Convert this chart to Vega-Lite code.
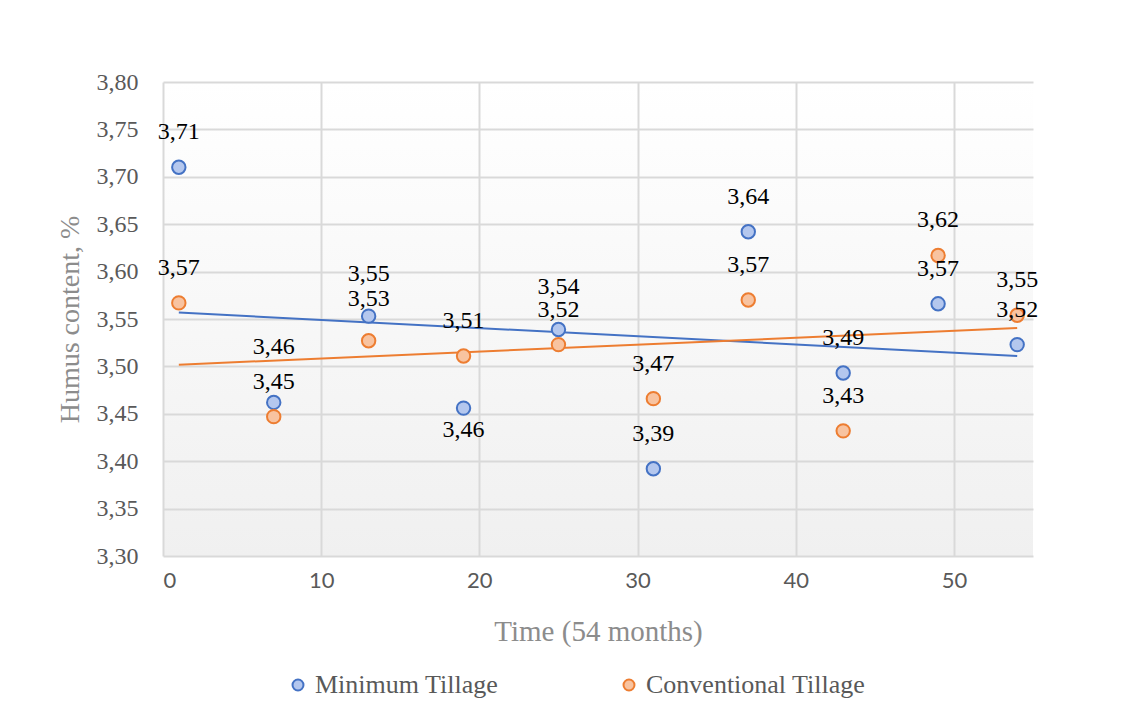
{
  "$schema": "https://vega.github.io/schema/vega-lite/v6.json",
  "autosize": "none",
  "width": 870,
  "height": 474,
  "padding": {"left": 163, "top": 82, "right": 101, "bottom": 166},
  "background": "white",
  "config": {
    "locale": {"number": {"decimal": ",", "thousands": ".", "grouping": [3], "currency": ["", ""]}},
    "view": {"stroke": null, "fill": {"gradient": "linear", "x1": 0, "y1": 0, "x2": 0, "y2": 1, "stops": [{"offset": 0, "color": "#ffffff"}, {"offset": 1, "color": "#f0f0f0"}]}},
    "axis": {"gridColor": "#d9d9d9", "gridWidth": 2, "domain": false, "ticks": false},
    "legend": {"title": null, "orient": "none", "legendX": 122, "legendY": 590, "direction": "horizontal", "columns": 2,
      "columnPadding": 117, "symbolType": "circle", "symbolSize": 120, "symbolStrokeWidth": 2, "symbolOffset": 0, "labelOffset": 4,
      "labelFont": "Liberation Serif, Times New Roman, serif", "labelFontSize": 26, "labelColor": "#595959", "labelLimit": 400}
  },
  "data": {"values": [
    {"t": 1, "series": "Minimum Tillage", "v": 3.71},
    {"t": 7, "series": "Minimum Tillage", "v": 3.462},
    {"t": 13, "series": "Minimum Tillage", "v": 3.553},
    {"t": 19, "series": "Minimum Tillage", "v": 3.456},
    {"t": 25, "series": "Minimum Tillage", "v": 3.539},
    {"t": 31, "series": "Minimum Tillage", "v": 3.392},
    {"t": 37, "series": "Minimum Tillage", "v": 3.642},
    {"t": 43, "series": "Minimum Tillage", "v": 3.493},
    {"t": 49, "series": "Minimum Tillage", "v": 3.566},
    {"t": 54, "series": "Minimum Tillage", "v": 3.523},
    {"t": 1, "series": "Conventional Tillage", "v": 3.567},
    {"t": 7, "series": "Conventional Tillage", "v": 3.447},
    {"t": 13, "series": "Conventional Tillage", "v": 3.527},
    {"t": 19, "series": "Conventional Tillage", "v": 3.511},
    {"t": 25, "series": "Conventional Tillage", "v": 3.523},
    {"t": 31, "series": "Conventional Tillage", "v": 3.466},
    {"t": 37, "series": "Conventional Tillage", "v": 3.57},
    {"t": 43, "series": "Conventional Tillage", "v": 3.432},
    {"t": 49, "series": "Conventional Tillage", "v": 3.617},
    {"t": 54, "series": "Conventional Tillage", "v": 3.554}
  ]},
  "encoding": {
    "x": {"field": "t", "type": "quantitative",
      "scale": {"domain": [0, 55], "nice": false, "zero": false},
      "axis": {"values": [0, 10, 20, 30, 40, 50], "title": "Time (54 months)",
        "labelFont": "Lato", "labelFontSize": 22, "labelColor": "#595959", "labelPadding": 14,
        "titleFont": "Liberation Serif, Times New Roman, serif", "titleFontSize": 29, "titleFontWeight": "normal", "titleColor": "#8c8c8c", "titlePadding": 26}},
    "y": {"field": "v", "type": "quantitative",
      "scale": {"domain": [3.3, 3.8], "nice": false, "zero": false},
      "axis": {"values": [3.3, 3.35, 3.4, 3.45, 3.5, 3.55, 3.6, 3.65, 3.7, 3.75, 3.8], "format": ".2f", "title": "Humus content, %",
        "labelFont": "Liberation Serif, Times New Roman, serif", "labelFontSize": 24, "labelColor": "#595959", "labelPadding": 25,
        "titleFont": "Liberation Serif, Times New Roman, serif", "titleFontSize": 28, "titleFontWeight": "normal", "titleColor": "#8c8c8c", "titlePadding": 12}}
  },
  "layer": [
    {
      "transform": [{"regression": "v", "on": "t", "groupby": ["series"], "extent": [1, 54]}],
      "mark": {"type": "line", "strokeWidth": 2},
      "encoding": {
        "stroke": {"field": "series", "type": "nominal",
          "scale": {"domain": ["Minimum Tillage", "Conventional Tillage"], "range": ["#4472c4", "#ed7d31"]}}
      }
    },
    {
      "mark": {"type": "point", "filled": false, "size": 180, "strokeWidth": 2, "shape": "circle", "opacity": 1},
      "encoding": {
        "stroke": {"field": "series", "type": "nominal",
          "scale": {"domain": ["Minimum Tillage", "Conventional Tillage"], "range": ["#4472c4", "#ed7d31"]}},
        "fill": {"field": "series", "type": "nominal",
          "scale": {"domain": ["Minimum Tillage", "Conventional Tillage"], "range": ["#b4c7ee", "#f8c3a0"]}}
      }
    },
    {
      "transform": [{"filter": "!(datum.series == 'Minimum Tillage' && (datum.t == 19 || datum.t == 7 || datum.t == 13 || datum.t == 25)) && !(datum.series == 'Conventional Tillage' && datum.t == 13)"}],
      "mark": {"type": "text", "dy": -35, "font": "Liberation Serif, Times New Roman, serif", "fontSize": 24, "color": "#000000"},
      "encoding": {"text": {"field": "v", "type": "quantitative", "format": ".2f"}}
    },
    {
      "transform": [{"filter": "datum.series == 'Minimum Tillage' && datum.t == 19"}],
      "mark": {"type": "text", "dy": 22, "font": "Liberation Serif, Times New Roman, serif", "fontSize": 24, "color": "#000000"},
      "encoding": {"text": {"field": "v", "type": "quantitative", "format": ".2f"}}
    },
    {
      "transform": [{"filter": "datum.series == 'Minimum Tillage' && datum.t == 7"}],
      "mark": {"type": "text", "dy": -55, "font": "Liberation Serif, Times New Roman, serif", "fontSize": 24, "color": "#000000"},
      "encoding": {"text": {"field": "v", "type": "quantitative", "format": ".2f"}}
    },
    {
      "transform": [{"filter": "(datum.series == 'Minimum Tillage' && (datum.t == 13 || datum.t == 25)) || (datum.series == 'Conventional Tillage' && datum.t == 13)"}],
      "mark": {"type": "text", "dy": -42, "font": "Liberation Serif, Times New Roman, serif", "fontSize": 24, "color": "#000000"},
      "encoding": {"text": {"field": "v", "type": "quantitative", "format": ".2f"}}
    }
  ]
}
